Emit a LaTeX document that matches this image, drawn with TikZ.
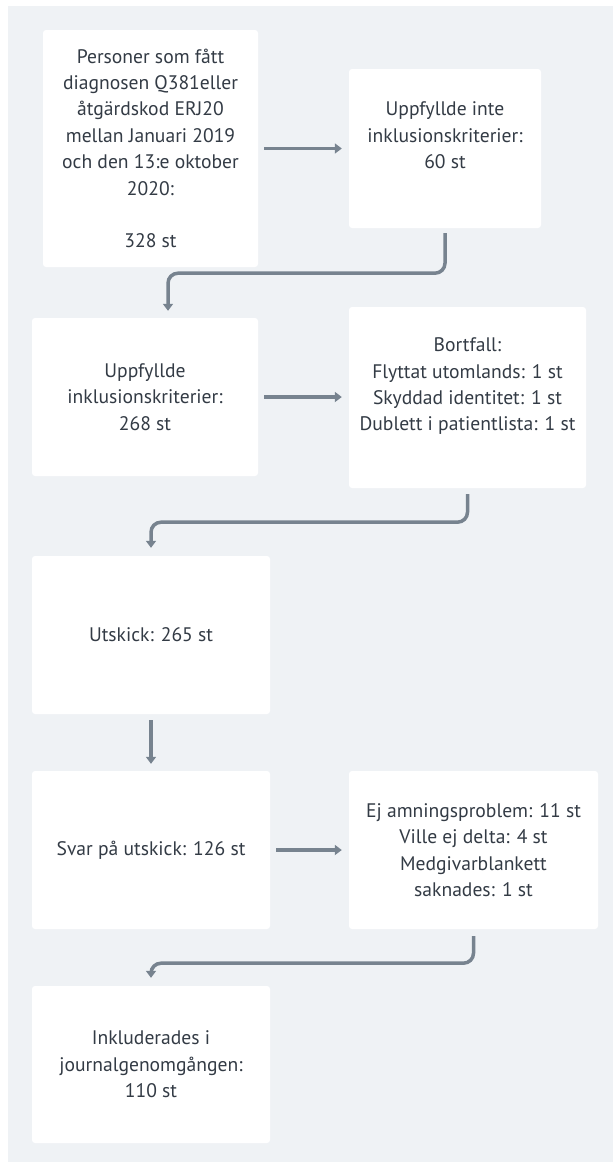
\documentclass[tikz,border=0pt]{standalone}
\usepackage{fontspec}
\setmainfont{PT Sans}
\usetikzlibrary{arrows.meta}
\definecolor{bgc}{HTML}{EFF2F5}
\definecolor{linec}{HTML}{77838F}
\definecolor{txtc}{HTML}{333B45}
\tikzset{
  box/.style={rectangle, fill=white, rounded corners=3pt, inner sep=0pt, align=center,
    text=txtc, font=\fontsize{19.6}{26.4}\selectfont},
  conn/.style={draw=linec, line width=3.5pt, -{Triangle[length=7pt,width=10pt]}},
}
\begin{document}
\begin{tikzpicture}[x=1pt,y=-1pt]
\useasboundingbox (0,0) rectangle (613,1162);
\fill[bgc] (8,6) rectangle (613,1162);
\node[box, minimum width=215pt, minimum height=237pt] (b1) at (150.5,148.5)
  {Personer som fått\\diagnosen Q381eller\\åtgärdskod ERJ20\\mellan Januari 2019\\och den 13:e oktober\\2020:\\[26.4pt]328 st};
\node[box, minimum width=192pt, minimum height=159pt] (b2) at (445,148.5)
  {Uppfyllde inte\\inklusionskriterier:\\60 st\\\mbox{}};
\node[box, minimum width=226pt, minimum height=158pt] (b3) at (145,397)
  {Uppfyllde\\inklusionskriterier:\\268 st};
\node[box, minimum width=237pt, minimum height=181pt] (b4) at (467.5,397.5)
  {Bortfall:\\Flyttat utomlands: 1 st\\Skyddad identitet: 1 st\\Dublett i patientlista: 1 st\\\mbox{}};
\node[box, minimum width=238pt, minimum height=158pt] (b5) at (151,635)
  {Utskick: 265 st};
\node[box, minimum width=238pt, minimum height=158pt] (b6) at (151,850)
  {Svar på utskick: 126 st};
\node[box, minimum width=249pt, minimum height=158pt] (b7) at (473.5,850)
  {Ej amningsproblem: 11 st\\Ville ej delta: 4 st\\Medgivarblankett\\saknades: 1 st};
\node[box, minimum width=238pt, minimum height=157pt] (b8) at (151,1064.5)
  {Inkluderades i\\journalgenomgången:\\110 st};
% connectors
\draw[conn] ([xshift=6pt]b1.east) -- ([xshift=-7pt]b1.east -| b2.west);
\draw[conn] ([xshift=6pt]b3.east) -- ([xshift=-7pt]b3.east -| b4.west);
\draw[conn] ([xshift=6pt]b6.east) -- ([xshift=-7pt]b6.east -| b7.west);
\draw[conn] ([yshift=-6pt]b5.south) -- ([yshift=7pt]b6.north);
\draw[conn, rounded corners=10pt] ([yshift=-5pt]b2.south) -- ++(0,40) -| ([xshift=23pt,yshift=7pt]b3.north);
\draw[conn, rounded corners=10pt] ([yshift=-6pt]b4.south) -- ++(0,28) -| ([yshift=8pt]b5.north);
\draw[conn, rounded corners=10pt] ([yshift=-7pt]b7.south) -- ++(0,27) -| ([yshift=8pt]b8.north);
\end{tikzpicture}
\end{document}
